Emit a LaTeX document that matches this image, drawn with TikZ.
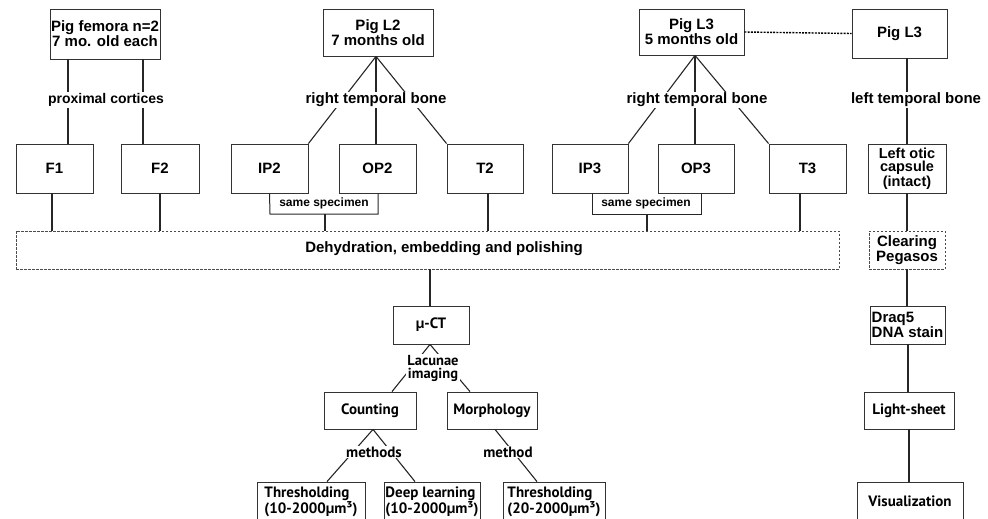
\documentclass[tikz,border=0pt]{standalone}
\usepackage{fontspec}
\setmainfont{Liberation Sans}
\newfontfamily\myr{PT Sans}
\begin{document}
\begin{tikzpicture}[x=1pt,y=-1pt,
  box/.style={draw=black!80, line width=0.8pt, fill=white, inner sep=1pt, align=center,
    font=\bfseries\fontsize{15}{13}\selectfont},
  mbox/.style={box, font=\myr\bfseries\fontsize{15}{13}\selectfont},
  dbox/.style={box, draw=black!70, dash pattern=on 2.5pt off 1.5pt, line width=0.7pt},
  conn/.style={draw=black!85, line width=1.1pt},
  lbl/.style={fill=white, inner sep=1pt, font=\bfseries\fontsize{15}{13}\selectfont},
  mlbl/.style={fill=white, inner sep=1pt, align=center, font=\myr\bfseries\fontsize{15}{13}\selectfont},
  small/.style={inner sep=0pt, font=\bfseries\fontsize{12}{12}\selectfont}
]
\useasboundingbox (0,0) rectangle (988,519);
% top row
\node[box, minimum width=110, minimum height=50] (fem) at (105,34) {Pig femora n=2\\7 mo. old each};
\node[box, minimum width=110, minimum height=47] (L2) at (378,32.5) {Pig L2\\7 months old};
\node[box, minimum width=105, minimum height=46] (L3) at (691.5,32) {Pig L3\\5 months old};
\node[box, minimum width=95, minimum height=49] (L3r) at (899.5,33.5) {Pig L3};
% second row
\node[box, minimum width=77, minimum height=49] (F1) at (54.5,168.5) {F1};
\node[box, minimum width=78, minimum height=49] (F2) at (160,168.5) {F2};
\node[box, minimum width=77, minimum height=49] (IP2) at (269.5,168.5) {IP2};
\node[box, minimum width=77, minimum height=49] (OP2) at (377.5,168.5) {OP2};
\node[box, minimum width=76, minimum height=49] (T2) at (485,168.5) {T2};
\node[box, minimum width=76, minimum height=49] (IP3) at (590,168.5) {IP3};
\node[box, minimum width=76, minimum height=49] (OP3) at (696,168.5) {OP3};
\node[box, minimum width=77, minimum height=49] (T3) at (807.5,168.5) {T3};
\node[box, minimum width=78, minimum height=49, font=\bfseries\fontsize{14.5}{13}\selectfont] (otic) at (907,168.5) {Left otic\\capsule\\(intact)};
% processing
\node[dbox, minimum width=823, minimum height=38] (dehy) at (427.5,250) {};
\node[font=\bfseries\fontsize{15}{13}\selectfont, inner sep=0pt] (dehyt) at (444,249) {Dehydration, embedding and polishing};
\node[dbox, minimum width=76, minimum height=38] (clear) at (907,250) {Clearing\\Pegasos};
\node[mbox, minimum width=76, minimum height=38] (mct) at (431,325) {µ-CT};
\node[box, minimum width=75, minimum height=38, align=left] (draq) at (907.5,325) {Draq5\\DNA stain};
\node[mbox, minimum width=92, minimum height=37] (count) at (370,410.5) {Counting};
\node[mbox, minimum width=90, minimum height=37] (morph) at (492,410.5) {Morphology};
\node[mbox, minimum width=90, minimum height=37] (light) at (909,410.5) {Light-sheet};
\node[mbox, minimum width=108, minimum height=39, align=left] (thr1) at (311,501.5) {Thresholding\\(10-2000µm³)};
\node[mbox, minimum width=96, minimum height=39, align=left] (deep) at (432,501.5) {Deep learning\\(10-2000µm³)};
\node[mbox, minimum width=102, minimum height=39, align=left] (thr2) at (554,501.5) {Thresholding\\(20-2000µm³)};
\node[mbox, minimum width=106, minimum height=39] (vis) at (910,501.5) {Visualization};
% connector points
\coordinate (femA) at (68,59);
\coordinate (femB) at (143,59);
\coordinate (F1a) at (68,144);
\coordinate (F2a) at (143,144);
% femora
\draw[conn] (femA) -- (F1a);
\draw[conn] (femB) -- (F2a);
\node[lbl, font=\bfseries\fontsize{14}{14}\selectfont] (prox) at (106,100) {proximal cortices};
% L2 fan
\draw[conn] (L2.south -| 376,0) -- (IP2.north east);
\draw[conn] (L2.south -| 376,0) -- (OP2.north -| 376,0);
\draw[conn] (L2.south -| 376,0) -- (T2.north west);
\node[lbl] (rtb2) at (376,100) {right temporal bone};
% L3 fan
\draw[conn] (L3.south -| 695,0) -- (IP3.north east);
\draw[conn] (L3.south -| 695,0) -- (OP3.north -| 695,0);
\draw[conn] (L3.south -| 695,0) -- (T3.north west);
\node[lbl] (rtb3) at (697,100) {right temporal bone};
% L3 dotted link
\draw[draw=black, line width=1.4pt, dash pattern=on 2pt off 1.2pt] (L3.east) -- (L3r.west);
% right column
\draw[conn] (L3r.south -| otic) -- (otic.north);
\node[lbl] (ltb) at (916,100) {left temporal bone};
\draw[conn] (otic.south) -- (clear.north);
\draw[conn] (clear.south) -- (draq.north -| clear);
\draw[conn] (draq.south -| 908,0) -- (light.north -| 908,0);
\draw[conn] (light.south) -- (vis.north -| light);
% to dehydration
\draw[conn] (F1.south -| 52,0) -- (dehy.north -| 52,0);
\draw[conn] (F2.south) -- (dehy.north -| F2);
\draw[conn] (T2.south -| 488,0) -- (dehy.north -| 488,0);
\draw[conn] (T3.south -| 800,0) -- (dehy.north -| 800,0);
\draw[conn, line width=1pt] (IP2.south) -- (270,214) -- (378,214) -- (OP2.south -| 378,0);
\draw[conn] (325,214) -- (dehy.north -| 325,0);
\node[small] (ss2) at (324,203.5) {same specimen};
\draw[conn, line width=1pt] (IP3.south -| 592,0) -- (592,214) -- (701,214) -- (OP3.south -| 701,0);
\draw[conn] (647,214) -- (dehy.north -| 647,0);
\node[small] (ss3) at (646,203.5) {same specimen};
% micro-CT tree
\draw[conn] (dehy.south -| 430,0) -- (mct.north -| 430,0);
\draw[conn] (mct.south -| 430,0) -- (count.north -| 392,0);
\draw[conn] (mct.south -| 430,0) -- (morph.north -| 470,0);
\node[mlbl, font=\myr\bfseries\fontsize{14.5}{13}\selectfont] (lac) at (433,368.5) {Lacunae\\imaging};
\draw[conn] (count.south -| 373,0) -- (thr1.north -| 327,0);
\draw[conn] (count.south -| 373,0) -- (deep.north -| 415,0);
\node[mlbl] (meths) at (374,452) {methods};
\draw[conn] (morph.south -| 495,0) -- (thr2.north -| 537,0);
\node[mlbl] (meth) at (508,452) {method};
\end{tikzpicture}
\end{document}
